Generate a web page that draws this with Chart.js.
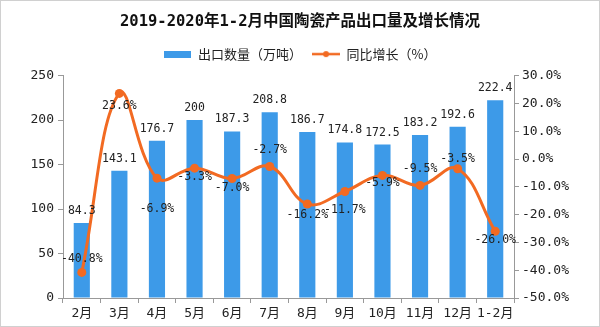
<!DOCTYPE html>
<html>
<head>
<meta charset="utf-8">
<script src="https://cdn.jsdelivr.net/npm/chart.js@4/dist/chart.umd.min.js"></script>
<style>
  html, body { margin: 0; padding: 0; background: #fff; }
  #wrap { position: relative; width: 598px; height: 325px; border: 1px solid #d0d0d0; }
</style>
</head>
<body>
<div id="wrap"><canvas id="c" width="598" height="325"></canvas></div>
<script>
const categories = ['2月','3月','4月','5月','6月','7月','8月','9月','10月','11月','12月','1-2月'];
const exportVolume = [84.3, 143.1, 176.7, 200, 187.3, 208.8, 186.7, 174.8, 172.5, 183.2, 192.6, 222.4];
const growthRate = [-40.8, 23.6, -6.9, -3.3, -7.0, -2.7, -16.2, -11.7, -5.9, -9.5, -3.5, -26.0];
const leftTicks = [0, 50, 100, 150, 200, 250];
const rightTicks = [-50, -40, -30, -20, -10, 0, 10, 20, 30];

// label vertical offsets (style only)
const lineLabelDy = [-13, 13, 31, 9, 10, -16, 11, 18, 8, -16, -10, 9];
const barLabelDy = -12;

const BAR = '#3d9ae8';
const LINE = '#f26a22';
const MONO = '"DejaVu Sans Mono", "Noto Sans CJK SC", monospace';

function makeImg(w, h, draw) {
  const c = document.createElement('canvas');
  c.width = w; c.height = h;
  draw(c.getContext('2d'));
  return c;
}
const barLegendImg = makeImg(27, 7, g => { g.fillStyle = BAR; g.fillRect(0, 0, 27, 7); });
const lineLegendImg = makeImg(28, 8, g => {
  g.strokeStyle = LINE; g.lineWidth = 2.5;
  g.beginPath(); g.moveTo(0, 4); g.lineTo(28, 4); g.stroke();
  g.fillStyle = LINE; g.beginPath(); g.arc(14, 4, 3, 0, Math.PI * 2); g.fill();
});

const labelPlugin = {
  id: 'valueLabels',
  afterDatasetsDraw(chart) {
    const ctx = chart.ctx;
    ctx.save();
    ctx.font = '11.5px ' + MONO;
    ctx.fillStyle = '#222';
    ctx.textAlign = 'center';
    ctx.textBaseline = 'middle';
    const barMeta = chart.getDatasetMeta(0);
    barMeta.data.forEach((el, i) => {
      ctx.fillText(String(exportVolume[i]), el.x, el.y + barLabelDy);
    });
    const lineMeta = chart.getDatasetMeta(1);
    lineMeta.data.forEach((el, i) => {
      ctx.fillText(growthRate[i].toFixed(1) + '%', el.x, el.y + lineLabelDy[i]);
    });
    ctx.restore();
  }
};

const spacerPlugin = {
  id: 'spacer',
  beforeInit(chart) {
    Chart.layouts.addBox(chart, {
      position: 'top', weight: 500, fullSize: true,
      options: {},
      left: 0, top: 0, right: 0, bottom: 0, width: 0, height: 0,
      isHorizontal() { return true; },
      update(maxW) { this.width = maxW; this.height = 5; return {}; },
      getPadding() { return { left: 0, top: 0, right: 0, bottom: 0 }; },
      draw() {},
      _layers() { return []; }
    });
  }
};

new Chart(document.getElementById('c'), {
  data: {
    labels: categories,
    datasets: [
      {
        type: 'bar',
        label: '出口数量（万吨）',
        data: exportVolume,
        backgroundColor: BAR,
        yAxisID: 'y',
        categoryPercentage: 1.0,
        barPercentage: 0.43,
        order: 2
      },
      {
        type: 'line',
        label: '同比增长（%）',
        data: growthRate,
        borderColor: LINE,
        backgroundColor: LINE,
        borderWidth: 3,
        pointRadius: 4.5,
        pointHoverRadius: 4.5,
        pointBackgroundColor: LINE,
        pointBorderWidth: 0,
        tension: 0.4,
        yAxisID: 'y1',
        order: 1,
        pointStyle: 'circle'
      }
    ]
  },
  options: {
    responsive: false,
    animation: false,
    events: [],
    layout: { padding: { left: 0, right: 0, top: 6, bottom: 0 } },
    plugins: {
      title: {
        display: true,
        text: '2019-2020年1-2月中国陶瓷产品出口量及增长情况',
        color: '#111',
        font: { family: MONO, size: 15.5, weight: 'bold' },
        padding: { top: 6, bottom: 6 }
      },
      legend: {
        display: true,
        labels: {
          usePointStyle: true,
          pointStyleWidth: 28,
          boxHeight: 13,
          color: '#222',
          font: { family: '"Noto Sans CJK SC", sans-serif', size: 13 },
          padding: 10,
          generateLabels(chart) {
            return [
              { text: '出口数量（万吨）', pointStyle: barLegendImg, fillStyle: BAR, strokeStyle: BAR, lineWidth: 0, datasetIndex: 0, fontColor: '#222' },
              { text: '同比增长（%）', pointStyle: lineLegendImg, fillStyle: LINE, strokeStyle: LINE, lineWidth: 0, datasetIndex: 1, fontColor: '#222' }
            ];
          }
        }
      },
      tooltip: { enabled: false }
    },
    scales: {
      x: {
        grid: { display: true, drawOnChartArea: false, drawTicks: true, tickLength: 5, color: '#999', offset: true },
        border: { display: true, color: '#999' },
        ticks: { color: '#222', font: { family: MONO, size: 13 }, padding: 3, maxRotation: 0, autoSkip: false },
        afterFit(s) { s.height = 28; }
      },
      y: {
        position: 'left',
        min: 0, max: 250,
        afterBuildTicks(s) { s.ticks = leftTicks.map(v => ({ value: v })); },
        grid: { display: true, drawOnChartArea: false, drawTicks: true, tickLength: 5, color: '#999' },
        border: { display: true, color: '#999' },
        ticks: { color: '#222', font: { family: MONO, size: 13 }, padding: 4 },
        afterFit(s) { s.width = 62; }
      },
      y1: {
        position: 'right',
        min: -50, max: 30,
        afterBuildTicks(s) { s.ticks = rightTicks.map(v => ({ value: v })); },
        grid: { display: true, drawOnChartArea: false, drawTicks: true, tickLength: 5, color: '#999' },
        border: { display: true, color: '#999' },
        ticks: { color: '#222', font: { family: MONO, size: 13 }, padding: 3, callback: v => v.toFixed(1) + '%' },
        afterFit(s) { s.width = 85; }
      }
    }
  },
  plugins: [labelPlugin, spacerPlugin]
});
</script>
</body>
</html>
